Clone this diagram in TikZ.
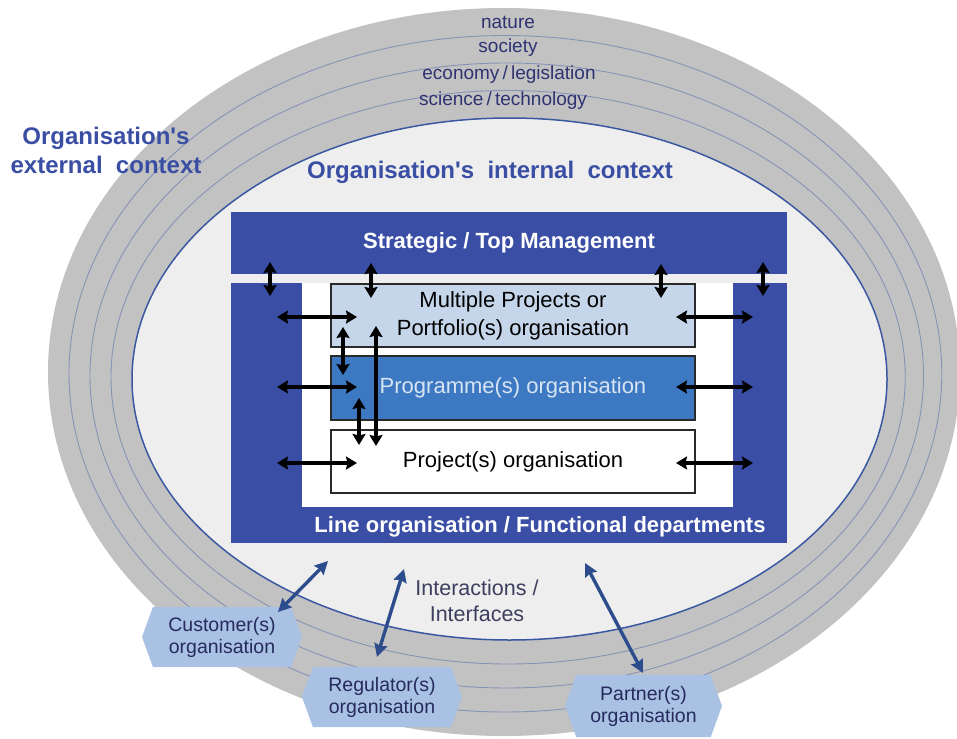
\documentclass[tikz,border=0pt]{standalone}
\usepackage{fontspec}
\setmainfont{Liberation Sans}[Ligatures=TeXOff]
\usetikzlibrary{arrows.meta,shapes.symbols}
\definecolor{ringgrey}{HTML}{C2C2C2}
\definecolor{innerfill}{HTML}{EEEEEE}
\definecolor{ringlinec}{HTML}{8593B5}
\definecolor{borderblue}{HTML}{3A58A2}
\definecolor{mainblue}{HTML}{3A4EA5}
\definecolor{lightbox}{HTML}{C6D6EA}
\definecolor{progblue}{HTML}{3D79C2}
\definecolor{progtext}{HTML}{D8E4F2}
\definecolor{headblue}{HTML}{3A4FA3}
\definecolor{ringtext}{HTML}{2E3372}
\definecolor{hexfill}{HTML}{A9C1E2}
\definecolor{hextext}{HTML}{262A5E}
\definecolor{arrowblue}{HTML}{2C4C8C}
\definecolor{intertext}{HTML}{3E3E5E}
\definecolor{boxline}{HTML}{2A2A2A}
\begin{document}
\begin{tikzpicture}[x=1pt,y=-1pt,
  txt/.style={inner sep=0, align=center},
  ringlabel/.style={txt, text=ringtext, font=\fontsize{19}{22}\selectfont},
  heading/.style={txt, text=headblue, font=\fontsize{24}{29}\selectfont\bfseries},
  whitehead/.style={txt, text=white, font=\fontsize{22}{26}\selectfont\bfseries},
  orgbox/.style={draw=boxline, line width=1.4pt, minimum width=364, minimum height=63, inner sep=0, align=center, font=\fontsize{22}{28}\selectfont},
  blk/.style={line width=3.4pt, {Stealth[length=11pt,width=13pt,inset=1.5pt]}-{Stealth[length=11pt,width=13pt,inset=1.5pt]}},
  blu/.style={draw=arrowblue, line width=3.4pt, {Stealth[length=13pt,width=13pt,inset=1.5pt]}-{Stealth[length=13pt,width=13pt,inset=1.5pt]}},
  ringpath/.style={draw=ringlinec, line width=0.9pt},
  hexa/.style={shape=signal, signal to=west and east, signal pointer angle=140, fill=hexfill, minimum width=160, minimum height=60, inner sep=0, align=center, text=hextext, font=\fontsize{19.5}{22}\selectfont}
]
\useasboundingbox (0,0) rectangle (957,738);

% rings
\fill[ringgrey] (504,372) ellipse [x radius=456, y radius=364];
\path[ringpath] (505.375,373.75) ellipse [x radius=436.375, y radius=338.25];
\path[ringpath] (506.75,375.5) ellipse [x radius=416.75, y radius=312.5];
\path[ringpath] (508.125,377.25) ellipse [x radius=397.125, y radius=286.75];
\filldraw[fill=innerfill, draw=borderblue, line width=1.5pt] (509.5,379) ellipse [x radius=377.5, y radius=261];

% ring labels
\node[ringlabel] (nat) at (508,22) {nature};
\node[ringlabel] (soc) at (508,48) {society};
\node[ringlabel] (eco) at (509,75) {economy\,/\,legislation};
\node[ringlabel] (sci) at (503,101) {science\,/\,technology};

% headings
\node[heading] (ext) at (106,150) {Organisation's\\external\ \ context};
\node[heading] (int) at (490,172) {Organisation's\ \ internal\ \ context};

% blue structure
\node[fill=mainblue, minimum width=556, minimum height=62, inner sep=0] (strat) at (509,243) {};
\node[whitehead] at (strat.center) {Strategic / Top Management};
\fill[mainblue] (231,283) rectangle (787,543);
\fill[white] (302,283) rectangle (733,507);
\node[whitehead] (lineorg) at (540,527) {Line organisation / Functional departments};

% boxes
\node[orgbox, fill=lightbox, text=black] (multi) at (513,315.5) {Multiple Projects or\\Portfolio(s) organisation};
\node[orgbox, fill=progblue, text=progtext, minimum height=64] (prog) at (513,388) {Programme(s) organisation};
\node[orgbox, fill=white, text=black] (proj) at (513,461.5) {Project(s) organisation};

% coordinates for black arrows
\coordinate (v1a) at (270,262); \coordinate (v1b) at (270,296);
\coordinate (v2a) at (371,263); \coordinate (v2b) at (371,298);
\coordinate (v3a) at (661,264); \coordinate (v3b) at (661,298);
\coordinate (v4a) at (763,262); \coordinate (v4b) at (763,296);
\coordinate (l1a) at (277,317); \coordinate (l1b) at (357,317);
\coordinate (l2a) at (277,387); \coordinate (l2b) at (357,387);
\coordinate (l3a) at (277,463); \coordinate (l3b) at (357,463);
\coordinate (r1a) at (676,317); \coordinate (r1b) at (753,317);
\coordinate (r2a) at (676,387); \coordinate (r2b) at (753,387);
\coordinate (r3a) at (676,463); \coordinate (r3b) at (753,463);
\coordinate (i1a) at (343,327); \coordinate (i1b) at (343,375);
\coordinate (i2a) at (359,398); \coordinate (i2b) at (359,445);
\coordinate (i3a) at (376,326); \coordinate (i3b) at (376,446);

\foreach \a in {v1,v2,v3,v4,l1,l2,l3,r1,r2,r3,i1,i2,i3}
  \draw[blk] (\a a) -- (\a b);

% interactions
\node[txt, text=intertext, font=\fontsize{21.5}{26}\selectfont] (inter) at (477,601) {Interactions /\\Interfaces};

% external organisations
\node[hexa] (cust) at (222,637) {Customer(s)\\organisation};
\node[hexa] (reg) at (382,697) {Regulator(s)\\organisation};
\node[hexa, minimum width=157, minimum height=62] (part) at (643.5,706) {Partner(s)\\organisation};

\coordinate (ca) at (328,561); \coordinate (cb) at (278,612);
\coordinate (ra) at (404,569); \coordinate (rb) at (377,657);
\coordinate (pa) at (585,563); \coordinate (pb) at (643,673);
\draw[blu] (ca) -- (cb);
\draw[blu] (ra) -- (rb);
\draw[blu] (pa) -- (pb);
\end{tikzpicture}
\end{document}
